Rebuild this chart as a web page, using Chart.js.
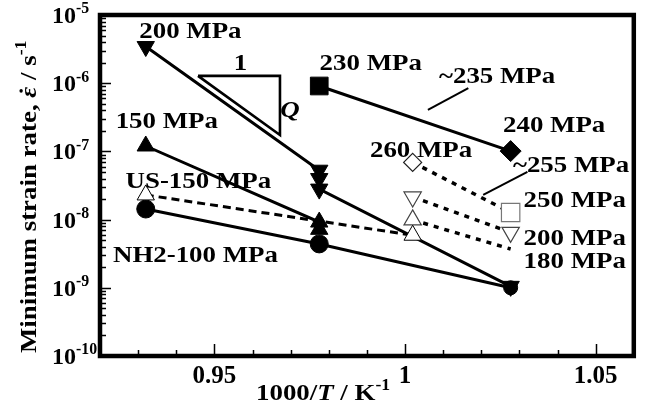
<!DOCTYPE html>
<html><head><meta charset="utf-8">
<script src="https://cdn.jsdelivr.net/npm/chart.js@4/dist/chart.umd.min.js"></script>
<style>html,body{margin:0;padding:0;background:#fff}#wrap{width:648px;height:410px;position:relative}</style>
</head><body><div id="wrap"><canvas id="c" width="648" height="410"></canvas></div>
<script>
// ---- data (x = 1000/T in K^-1, y = minimum strain rate in s^-1) ----
const s200_x = [0.932, 0.9775, 0.9775, 0.9775, 1.0277];
const s200_y = [3.45e-6, 5.3e-8, 4.0e-8, 2.8e-8, 1.05e-9];
const s150_x = [0.932, 0.9775, 0.9775];
const s150_y = [1.2e-7, 9.2e-9, 7.2e-9];
const nh2_x = [0.932, 0.9775, 1.0277];
const nh2_y = [1.43e-8, 4.4e-9, 1.0e-9];
const us150_x = [0.932, 1.002];
const us150_y = [2.3e-8, 5.9e-9];
const s235_x = [0.9775, 1.0277];
const s235_y = [9.1e-7, 1.01e-7];
const s255_x = [1.002, 1.0277];
const s255_y = [6.9e-8, 1.27e-8];
const o200_x = [1.002, 1.0277];
const o200_y = [2.15e-8, 6.5e-9];
const o180_x = [1.002, 1.0277];
const o180_y = [9.9e-9, 3.7e-9];
// slope triangle and leader lines (data coordinates)
const tri_x = [0.9457, 0.9672, 0.9672, 0.9457];
const tri_y = [1.28e-6, 1.28e-6, 1.74e-7, 1.28e-6];
const lead235_x = [1.0166, 1.0060];
const lead235_y = [8.5e-7, 4.05e-7];
const lead255_x = [1.0321, 1.0205];
const lead255_y = [5.0e-8, 2.3e-8];
// ticks
const xTickVals = [0.95, 1, 1.05];
const xTickLabels = ['0.95', '1', '1.05'];
const yTickExps = [-5, -6, -7, -8, -9, -10];
// annotation texts: [text, x, log10(y)] (left, baseline)
const notes = [
  ['200 MPa', 0.9303, -5.337],
  ['150 MPa', 0.9241, -6.657],
  ['US-150 MPa', 0.9267, -7.537],
  ['NH2-100 MPa', 0.9234, -8.622],
  ['230 MPa', 0.9776, -5.806],
  ['~235 MPa', 1.0089, -5.997],
  ['240 MPa', 1.0257, -6.716],
  ['260 MPa', 0.9908, -7.082],
  ['~255 MPa', 1.0283, -7.302],
  ['250 MPa', 1.0311, -7.815],
  ['200 MPa', 1.0311, -8.372],
  ['180 MPa', 1.0311, -8.710],
  ['1', 0.9551, -5.806]
];
const noteQ = ['Q', 0.9673, -6.496];

const pts = (xs, ys) => xs.map((x, i) => ({x: x, y: ys[i]}));
const FONT = '"Liberation Serif", "Times New Roman", serif';
const SX = 1.12;

function runs(ctx, parts, x, y, size, sx, rot) {
  ctx.save();
  ctx.translate(x, y);
  if (rot) ctx.rotate(rot);
  ctx.scale(sx, 1);
  ctx.textAlign = 'left';
  ctx.textBaseline = 'alphabetic';
  ctx.fillStyle = '#000';
  let cx = 0;
  for (const p of parts) {
    const fs = p.sup ? size * 0.66 : size;
    ctx.font = (p.it ? 'italic ' : '') + 'bold ' + fs + 'px ' + FONT;
    const dy = p.sup ? -size * 0.4 : 0;
    ctx.fillText(p.t, cx, dy);
    const w = ctx.measureText(p.t).width;
    if (p.dot) {
      ctx.beginPath();
      ctx.arc(cx + w * 0.62, -size * 0.62, size * 0.07, 0, Math.PI * 2);
      ctx.fill();
    }
    cx += w + (p.gap || 0);
  }
  ctx.restore();
}

const decor = {
  id: 'decor',
  afterDatasetsDraw(chart) {
    const ctx = chart.ctx, a = chart.chartArea;
    const xs = chart.scales.x, ys = chart.scales.y;
    ctx.save();
    // inward ticks
    ctx.strokeStyle = '#000';
    ctx.lineWidth = 1.5;
    ctx.beginPath();
    for (let e = -10; e < -5; e++) {
      for (let m = 1; m <= 9; m++) {
        const v = m * Math.pow(10, e);
        const py = Math.round(ys.getPixelForValue(v)) + 0.5;
        const len = m === 1 ? 11 : 6;
        ctx.moveTo(a.left, py); ctx.lineTo(a.left + len, py);
      }
    }
    for (let k = 93; k <= 105; k++) {
      const v = k / 100;
      const px = Math.round(xs.getPixelForValue(v)) + 0.5;
      const len = (k % 5 === 0) ? 12 : 6;
      ctx.moveTo(px, a.bottom); ctx.lineTo(px, a.bottom - len);
    }
    ctx.stroke();
    // frame
    ctx.lineWidth = 4.5;
    ctx.strokeRect(a.left, a.top, a.right - a.left, a.bottom - a.top);
    // y tick labels
    for (const e of yTickExps) {
      const py = ys.getPixelForValue(Math.pow(10, e));
      runs(ctx, [{t: '10'}, {t: String(e), sup: true}], 52, py + 8, 24, 1.0);
    }
    // annotations
    for (const n of notes) {
      runs(ctx, [{t: n[0]}], xs.getPixelForValue(n[1]), ys.getPixelForValue(Math.pow(10, n[2])), 24, SX);
    }
    runs(ctx, [{t: noteQ[0], it: true}], xs.getPixelForValue(noteQ[1]), ys.getPixelForValue(Math.pow(10, noteQ[2])), 24, SX);
    // axis titles
    runs(ctx, [{t: '1000/'}, {t: 'T', it: true}, {t: ' / K'}, {t: '-1', sup: true}], a.left + 156, 400, 24, SX);
    runs(ctx, [{t: 'Minimum strain rate, '}, {t: '\u03B5', it: true, dot: true}, {t: ' / s'}, {t: '-1', sup: true}], 36, 353, 24, SX, -Math.PI / 2);
    ctx.restore();
  }
};

const solid = (extra) => Object.assign({showLine: true, borderColor: '#000', borderWidth: 3, tension: 0, pointBorderColor: '#000', pointBorderWidth: 1}, extra);

new Chart(document.getElementById('c'), {
  type: 'scatter',
  data: {
    datasets: [
      solid({label: 'US-150 MPa', data: pts(us150_x, us150_y), borderDash: [8, 5], pointStyle: 'triangle', pointRadius: 10, pointBackgroundColor: '#fff', order: 1}),
      solid({label: '200 MPa', data: pts(s200_x, s200_y), pointStyle: 'triangle', pointRotation: 180, pointRadius: 10, pointBackgroundColor: '#000', order: 2}),
      solid({label: '150 MPa', data: pts(s150_x, s150_y), pointStyle: 'triangle', pointRadius: 10, pointBackgroundColor: '#000', order: 3}),
      solid({label: 'NH2-100 MPa', data: pts(nh2_x, nh2_y), pointStyle: 'circle', pointRadius: [9, 9, 7], pointBackgroundColor: '#000', order: 4}),
      solid({label: '~235 MPa', data: pts(s235_x, s235_y), pointStyle: ['rect', 'rectRot'], pointRadius: [12.5, 10.5], pointBackgroundColor: '#000', order: 5}),
      solid({label: '~255 MPa', data: pts(s255_x, s255_y), borderDash: [5, 6], borderWidth: 3.5, pointStyle: ['rectRot', 'rect'], pointRadius: [9, 13], pointBackgroundColor: '#fff', pointBorderColor: ['#222', '#777'], pointBorderWidth: 1.2, order: 6}),
      solid({label: '200 MPa (o)', data: pts(o200_x, o200_y), borderDash: [5, 6], borderWidth: 3.5, pointStyle: 'triangle', pointRotation: 180, pointRadius: 10, pointBackgroundColor: '#fff', pointBorderColor: '#444', pointBorderWidth: 1.2, order: 7}),
      solid({label: '180 MPa', data: pts(o180_x, o180_y), borderDash: [5, 6], borderWidth: 3.5, pointStyle: 'triangle', pointRadius: [10, 0], pointBackgroundColor: '#fff', pointBorderColor: '#444', pointBorderWidth: 1.2, order: 8}),
      solid({label: 'slope', data: pts(tri_x, tri_y), borderWidth: 2.6, pointRadius: 0, borderJoinStyle: 'miter', order: 9}),
      solid({label: 'lead235', data: pts(lead235_x, lead235_y), borderWidth: 2, pointRadius: 0, order: 9}),
      solid({label: 'lead255', data: pts(lead255_x, lead255_y), borderWidth: 2, pointRadius: 0, order: 9})
    ]
  },
  options: {
    responsive: false,
    animation: false,
    events: [],
    layout: {padding: {top: 15, right: 8, left: 0, bottom: 0}},
    plugins: {legend: {display: false}, tooltip: {enabled: false}},
    scales: {
      x: {
        type: 'linear', min: 0.92, max: 1.06,
        grid: {display: false}, border: {display: false},
        afterBuildTicks: s => { s.ticks = xTickVals.map(v => ({value: v})); },
        afterFit: s => { s.height = 54; },
        ticks: {
          color: '#000', padding: -2,
          font: {family: FONT, size: 25, weight: 'bold'},
          callback: (v) => xTickLabels[xTickVals.indexOf(v)] ?? ''
        }
      },
      y: {
        type: 'logarithmic', min: 1e-10, max: 1e-5,
        grid: {display: false}, border: {display: false},
        afterBuildTicks: s => { s.ticks = yTickExps.map(e => ({value: Math.pow(10, e)})); },
        afterFit: s => { s.width = 100; },
        ticks: {display: false}
      }
    }
  },
  plugins: [decor]
});
</script>
</body></html>
